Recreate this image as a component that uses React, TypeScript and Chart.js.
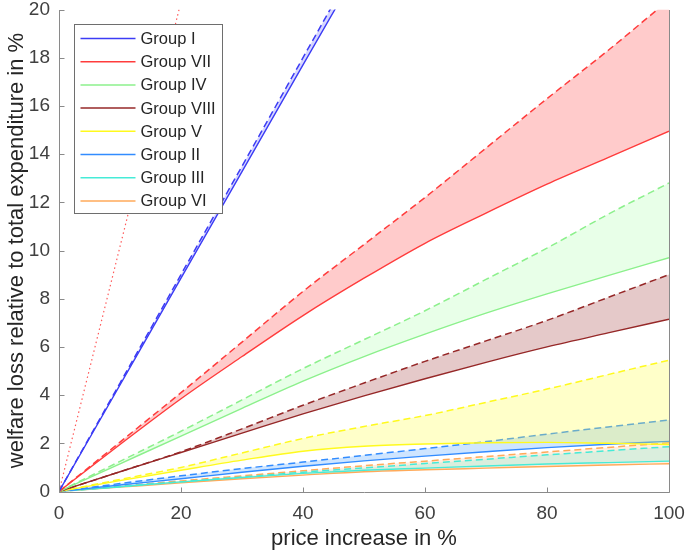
import React, { useEffect, useRef } from 'react';
import { Chart, registerables } from 'chart.js';

Chart.register(...registerables);

// price increase in % (x values)
const priceIncrease = [0, 10, 20, 30, 40, 50, 60, 70, 80, 90, 100];
const priceIncreaseGroupI = [0, 10, 20, 30, 40, 50];
const referenceX = [0, 25];
const referenceY = [0, 25.4];

// lower (solid) and upper (dashed) bounds of welfare loss, in %
const groupILow = [0, 4.42, 8.85, 13.27, 17.7, 22.1];
const groupIHigh = [0, 4.5, 9.0, 13.5, 18.0, 22.5];
const groupVIILow = [0, 1.95, 3.85, 5.6, 7.3, 8.85, 10.3, 11.55, 12.75, 13.85, 14.95];
const groupVIIHigh = [0, 2.05, 4.1, 6.2, 8.3, 10.25, 12.2, 14.25, 16.3, 18.3, 20.4];
const groupIVLow = [0, 1.15, 2.3, 3.45, 4.58, 5.6, 6.53, 7.4, 8.2, 8.96, 9.7];
const groupIVHigh = [0, 1.25, 2.5, 3.8, 5.1, 6.3, 7.5, 8.8, 10.1, 11.5, 12.8];
const groupVIIILow = [0, 0.82, 1.62, 2.42, 3.22, 3.97, 4.68, 5.36, 6.0, 6.58, 7.15];
const groupVIIIHigh = [0, 0.82, 1.65, 2.6, 3.58, 4.5, 5.4, 6.25, 7.1, 8.05, 9.0];
const groupVLow = [0, 0.45, 0.88, 1.3, 1.67, 1.88, 1.97, 2.02, 2.04, 2.0, 1.95];
const groupVHigh = [0, 0.5, 1.0, 1.6, 2.2, 2.7, 3.15, 3.7, 4.25, 4.85, 5.45];
const groupIILow = [0, 0.27, 0.53, 0.8, 1.05, 1.27, 1.47, 1.65, 1.82, 1.96, 2.08];
const groupIIHigh = [0, 0.33, 0.65, 0.95, 1.22, 1.5, 1.78, 2.07, 2.38, 2.68, 2.97];
const groupIIILow = [0, 0.2, 0.4, 0.58, 0.75, 0.88, 0.97, 1.06, 1.14, 1.2, 1.26];
const groupIIIHigh = [0, 0.2, 0.4, 0.6, 0.8, 0.98, 1.16, 1.34, 1.52, 1.69, 1.86];
const groupVILow = [0, 0.18, 0.36, 0.53, 0.68, 0.82, 0.9, 0.97, 1.04, 1.1, 1.15];
const groupVIHigh = [0, 0.22, 0.44, 0.65, 0.86, 1.07, 1.26, 1.45, 1.64, 1.83, 2.02];

const groupNames = ['Group I', 'Group VII', 'Group IV', 'Group VIII', 'Group V', 'Group II', 'Group III', 'Group VI'];
const groupXs = [priceIncreaseGroupI, priceIncrease, priceIncrease, priceIncrease, priceIncrease, priceIncrease, priceIncrease, priceIncrease];
const groupLows = [groupILow, groupVIILow, groupIVLow, groupVIIILow, groupVLow, groupIILow, groupIIILow, groupVILow];
const groupHighs = [groupIHigh, groupVIIHigh, groupIVHigh, groupVIIIHigh, groupVHigh, groupIIHigh, groupIIIHigh, groupVIHigh];
const lineColors = [
  'rgb(60,60,245)',
  'rgb(255,60,60)',
  'rgb(140,240,140)',
  'rgb(150,40,40)',
  'rgb(255,250,30)',
  'rgb(50,140,255)',
  'rgb(70,235,215)',
  'rgb(255,170,90)',
];
const fillColors = [
  'rgba(90,90,255,0.25)',
  'rgba(255,70,70,0.28)',
  'rgba(150,255,150,0.22)',
  'rgba(150,40,40,0.25)',
  'rgba(255,255,60,0.28)',
  'rgba(60,150,255,0.25)',
  'rgba(70,235,215,0.2)',
  'rgba(255,170,90,0.2)',
];

const xTicks = [0, 20, 40, 60, 80, 100];
const yTicks = [0, 2, 4, 6, 8, 10, 12, 14, 16, 18, 20];

const FONT = "'Liberation Sans', Arial, Helvetica, sans-serif";

const axesPlugin = {
  id: 'matlabAxes',
  afterDatasetsDraw(chart: any) {
    const { ctx, chartArea, scales } = chart;
    const { left, right, top, bottom } = chartArea;
    ctx.save();
    ctx.strokeStyle = '#8a8a8a';
    ctx.lineWidth = 1;
    ctx.beginPath();
    const L = Math.round(left) + 0.5;
    const R = Math.round(right) + 0.5;
    const B = Math.round(bottom) + 0.5;
    const T = Math.round(top);
    ctx.moveTo(L, T);
    ctx.lineTo(L, B);
    ctx.lineTo(R, B);
    ctx.lineTo(R, T);
    for (const v of yTicks) {
      const y = Math.round(scales.y.getPixelForValue(v)) + 0.5;
      ctx.moveTo(L, y);
      ctx.lineTo(L + 5, y);
    }
    for (const v of xTicks) {
      const x = Math.round(scales.x.getPixelForValue(v)) + 0.5;
      ctx.moveTo(x, B);
      ctx.lineTo(x, B - 5);
    }
    ctx.stroke();
    ctx.restore();
  },
  afterDraw(chart: any) {
    const { ctx, chartArea } = chart;
    const bx = Math.round(chartArea.left) + 15.5;
    const by = Math.round(chartArea.top) + 14.5;
    const bw = 148;
    const bh = 189;
    ctx.save();
    ctx.fillStyle = '#ffffff';
    ctx.fillRect(bx, by, bw, bh);
    ctx.strokeStyle = '#6e6e6e';
    ctx.lineWidth = 1;
    ctx.strokeRect(bx, by, bw, bh);
    ctx.font = `16.5px ${FONT}`;
    ctx.textBaseline = 'middle';
    ctx.textAlign = 'left';
    groupNames.forEach((name, i) => {
      const cy = by + 14 + i * 23.2;
      ctx.strokeStyle = lineColors[i];
      ctx.lineWidth = 1.5;
      ctx.beginPath();
      ctx.moveTo(bx + 6, cy);
      ctx.lineTo(bx + 61, cy);
      ctx.stroke();
      ctx.fillStyle = '#262626';
      ctx.fillText(name, bx + 66, cy + 1);
    });
    ctx.restore();
  },
};

export default function App() {
  const canvasRef = useRef<HTMLCanvasElement | null>(null);

  useEffect(() => {
    document.body.style.margin = '0';
    const canvas = canvasRef.current;
    if (!canvas) return;

    const datasets: any[] = [];
    groupNames.forEach((name, g) => {
      const xs = groupXs[g];
      const solidIndex = datasets.length;
      datasets.push({
        label: name,
        data: xs.map((x, i) => ({ x, y: groupLows[g][i] })),
        borderColor: lineColors[g],
        borderWidth: 1.4,
        pointRadius: 0,
        fill: false,
        cubicInterpolationMode: 'monotone',
      });
      datasets.push({
        label: name + ' upper',
        data: xs.map((x, i) => ({ x, y: groupHighs[g][i] })),
        borderColor: lineColors[g],
        borderWidth: 1.5,
        borderDash: [7, 4],
        pointRadius: 0,
        fill: { target: solidIndex, above: fillColors[g], below: fillColors[g] },
        cubicInterpolationMode: 'monotone',
      });
    });
    datasets.push({
      label: 'reference',
      data: referenceX.map((x, i) => ({ x, y: referenceY[i] })),
      borderColor: 'rgb(255,90,90)',
      borderWidth: 1.2,
      borderDash: [1.5, 3],
      pointRadius: 0,
      fill: false,
    });

    const chart = new Chart(canvas, {
      type: 'line',
      data: { datasets },
      options: {
        animation: false,
        responsive: false,
        maintainAspectRatio: false,
        events: [],
        layout: { padding: { top: 9.5, right: 16, left: 0, bottom: 0 } },
        plugins: {
          legend: { display: false },
          tooltip: { enabled: false },
        },
        scales: {
          x: {
            type: 'linear',
            min: 0,
            max: 100,
            afterFit: (s: any) => {
              s.height = 60.5;
              s.paddingLeft = 0;
              s.paddingRight = 0;
            },
            afterBuildTicks: (s: any) => { s.ticks = xTicks.map((v) => ({ value: v })); },
            grid: { display: false, drawTicks: false },
            border: { display: false },
            ticks: { padding: 11, color: '#404040', font: { size: 19, family: FONT } },
            title: {
              display: true,
              text: 'price increase in %',
              color: '#262626',
              font: { size: 22, family: FONT },
              padding: { top: 0, bottom: 0 },
            },
          },
          y: {
            type: 'linear',
            min: 0,
            max: 20,
            afterFit: (s: any) => {
              s.width = 59;
              s.paddingTop = 0;
              s.paddingBottom = 0;
            },
            afterBuildTicks: (s: any) => { s.ticks = yTicks.map((v) => ({ value: v })); },
            grid: { display: false, drawTicks: false },
            border: { display: false },
            ticks: { padding: 9, color: '#404040', font: { size: 19, family: FONT } },
            title: {
              display: true,
              text: 'welfare loss relative to total expenditure in %',
              color: '#262626',
              font: { size: 22, family: FONT },
              padding: { top: 4, bottom: 0 },
            },
          },
        },
      },
      plugins: [axesPlugin],
    });

    return () => chart.destroy();
  }, []);

  return (
    <div style={{ width: 685, height: 552, background: '#fff' }}>
      <canvas ref={canvasRef} width={685} height={552} style={{ display: 'block' }} />
    </div>
  );
}
